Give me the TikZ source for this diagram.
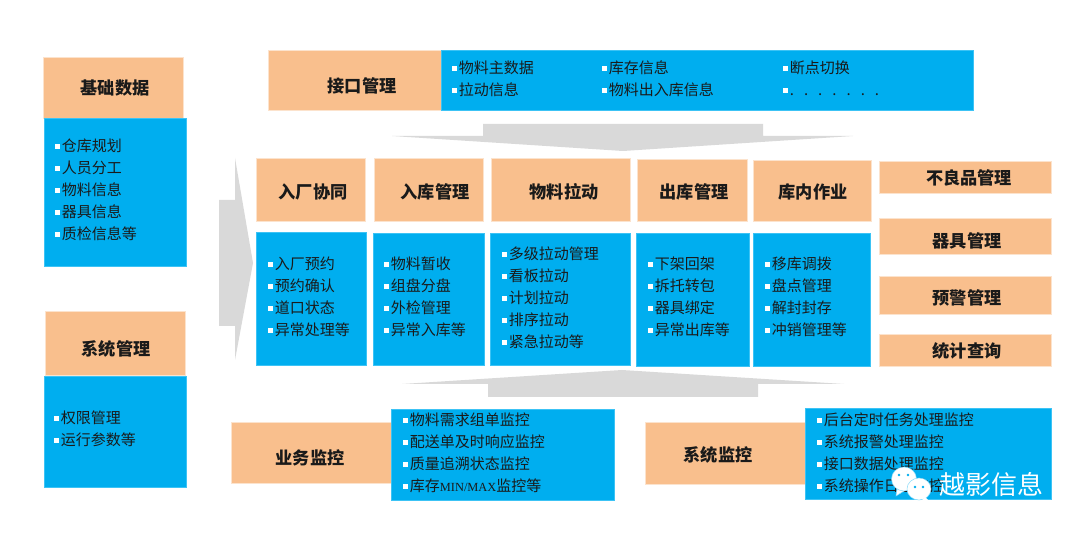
\documentclass[tikz,border=0pt]{standalone}
\usepackage{fontspec}
\setmainfont{Noto Sans CJK SC}
\newfontfamily\latinserif{Liberation Serif}
\definecolor{boxblue}{HTML}{00AEEF}
\definecolor{edgeblue}{HTML}{3CC3F5}
\definecolor{boxorange}{HTML}{F9BF8D}
\definecolor{edgeorange}{HTML}{FCE3CD}
\definecolor{arrowgray}{HTML}{D9D9D9}
\definecolor{inktext}{HTML}{1A1A1A}
\newcommand{\bu}{\textcolor{white}{\rule[3pt]{4.5pt}{4.5pt}}\hspace{2.2pt}}
\newcommand{\bx}[6]{\node[#2,minimum width=#5-#3,minimum height=#6-#4,anchor=north west] (#1) at (#3,#4) {};}
\newcommand{\ttl}[4]{\node[titletext] (#1) at (#2,#3) {#4};}
\newcommand{\lst}[4]{\node[listtext] (#1) at (#2,#3-7.2) {#4};}
\tikzset{
  orangebox/.style={draw=edgeorange,fill=boxorange,line width=0.8pt,inner sep=0,outer sep=0},
  bluebox/.style={draw=edgeblue,fill=boxblue,line width=0.6pt,inner sep=0,outer sep=0},
  titletext/.style={font=\fontsize{17.2}{20}\selectfont\bfseries,text=inktext,inner sep=0},
  listtext/.style={font=\fontsize{15}{22}\selectfont,text=inktext,inner sep=0,anchor=north west,align=left},
  bigarrow/.style={fill=arrowgray,draw=none},
  bubble/.style={fill=white,draw=edgeblue!60!white,line width=0.5pt},
  eye/.style={fill=boxblue,draw=none}
}
\begin{document}
\begin{tikzpicture}[x=1pt,y=-1pt]
\useasboundingbox[fill=white] (0,0) rectangle (1080,534);
% big arrows
\fill[bigarrow] (483,124) -- (763,124) -- (763,136) -- (853,136) -- (623,151) -- (392,136) -- (483,136) -- cycle;
\fill[bigarrow] (488,397) -- (758,397) -- (758,384) -- (844,384) -- (622,370) -- (402,384) -- (488,384) -- cycle;
\fill[bigarrow] (219,200) -- (235,200) -- (235,158) -- (253,263) -- (235,360) -- (235,326) -- (219,326) -- cycle;
% left column
\bx{jcbox}{orangebox}{43}{57}{183}{118}
\bx{jclist}{bluebox}{44}{118}{186}{266}
\bx{xtbox}{orangebox}{45}{311}{185}{375}
\bx{xtlist}{bluebox}{44}{376}{186}{487}
% interface
\bx{jkbox}{orangebox}{268}{50}{441}{110}
\bx{jklist}{bluebox}{441}{50}{973}{110}
% central row
\bx{a1}{orangebox}{256}{158}{365}{221}
\bx{a2}{orangebox}{374}{158}{483}{221}
\bx{a3}{orangebox}{491}{158}{630}{221}
\bx{a4}{orangebox}{637}{159}{747}{221}
\bx{a5}{orangebox}{753}{160}{871}{221}
\bx{b1}{bluebox}{256}{232}{366}{365}
\bx{b2}{bluebox}{373}{233}{484}{365}
\bx{b3}{bluebox}{490}{233}{630}{365}
\bx{b4}{bluebox}{636}{233}{749}{366}
\bx{b5}{bluebox}{753}{233}{870}{366}
% right column
\bx{r1}{orangebox}{879}{161}{1051}{193}
\bx{r2}{orangebox}{879}{218}{1051}{254}
\bx{r3}{orangebox}{879}{276}{1051}{314}
\bx{r4}{orangebox}{879}{334}{1051}{366}
% bottom
\bx{ywbox}{orangebox}{231}{422}{391}{483}
\bx{ywlist}{bluebox}{391}{409}{614}{500}
\bx{xjbox}{orangebox}{645}{422}{805}{484}
\bx{xjlist}{bluebox}{805}{408}{1051}{499}
% titles
\ttl{t1}{115}{88}{基础数据}
\ttl{t2}{116}{349}{系统管理}
\ttl{t3}{362}{86}{接口管理}
\ttl{t4}{313}{192}{入厂协同}
\ttl{t5}{435}{192}{入库管理}
\ttl{t6}{564}{192}{物料拉动}
\ttl{t7}{694}{192}{出库管理}
\ttl{t8}{813}{192}{库内作业}
\ttl{t9}{969}{178}{不良品管理}
\ttl{t10}{967}{241}{器具管理}
\ttl{t11}{967}{298}{预警管理}
\ttl{t12}{967}{351}{统计查询}
\ttl{t13}{310}{458}{业务监控}
\ttl{t14}{718}{455}{系统监控}
% lists
\lst{l1}{55}{146}{\bu 仓库规划\\\bu 人员分工\\\bu 物料信息\\\bu 器具信息\\\bu 质检信息等}
\lst{l2}{54}{418}{\bu 权限管理\\\bu 运行参数等}
\lst{l3}{452}{68}{\bu 物料主数据\\\bu 拉动信息}
\lst{l4}{602}{68}{\bu 库存信息\\\bu 物料出入库信息}
\lst{l5}{783}{68}{\bu 断点切换\\\bu .\hspace{10pt}.\hspace{10pt}.\hspace{10pt}.\hspace{10pt}.\hspace{10pt}.\hspace{10pt}.}
\lst{l6}{268}{264}{\bu 入厂预约\\\bu 预约确认\\\bu 道口状态\\\bu 异常处理等}
\lst{l7}{384}{264}{\bu 物料暂收\\\bu 组盘分盘\\\bu 外检管理\\\bu 异常入库等}
\lst{l8}{502}{254}{\bu 多级拉动管理\\\bu 看板拉动\\\bu 计划拉动\\\bu 排序拉动\\\bu 紧急拉动等}
\lst{l9}{648}{264}{\bu 下架回架\\\bu 拆托转包\\\bu 器具绑定\\\bu 异常出库等}
\lst{l10}{765}{264}{\bu 移库调拨\\\bu 盘点管理\\\bu 解封封存\\\bu 冲销管理等}
\lst{l11}{403}{420}{\bu 物料需求组单监控\\\bu 配送单及时响应监控\\\bu 质量追溯状态监控\\\bu 库存{\latinserif\fontsize{12.4}{22}\selectfont MIN/MAX}监控等}
\lst{l12}{817}{420}{\bu 后台定时任务处理监控\\\bu 系统报警处理监控\\\bu 接口数据处理监控\\\bu 系统操作日志监控}
% watermark
\fill[bubble] (897,489) -- (896,496) -- (904,491) -- cycle;
\draw[bubble] (904,479) ellipse [x radius=12.5,y radius=12];
\draw[bubble] (919,489) ellipse [x radius=12,y radius=11];
\fill[bubble,draw=none] (925,497) -- (931,503) -- (922,500) -- cycle;
\fill[eye] (899,475) circle (1.4);
\fill[eye] (908,475) circle (1.4);
\fill[eye] (915,487) circle (1.3);
\fill[eye] (923,487) circle (1.3);
\node[font=\fontsize{26}{30}\selectfont,text=white,inner sep=0] (wm) at (991,485) {越影信息};
\end{tikzpicture}
\end{document}
